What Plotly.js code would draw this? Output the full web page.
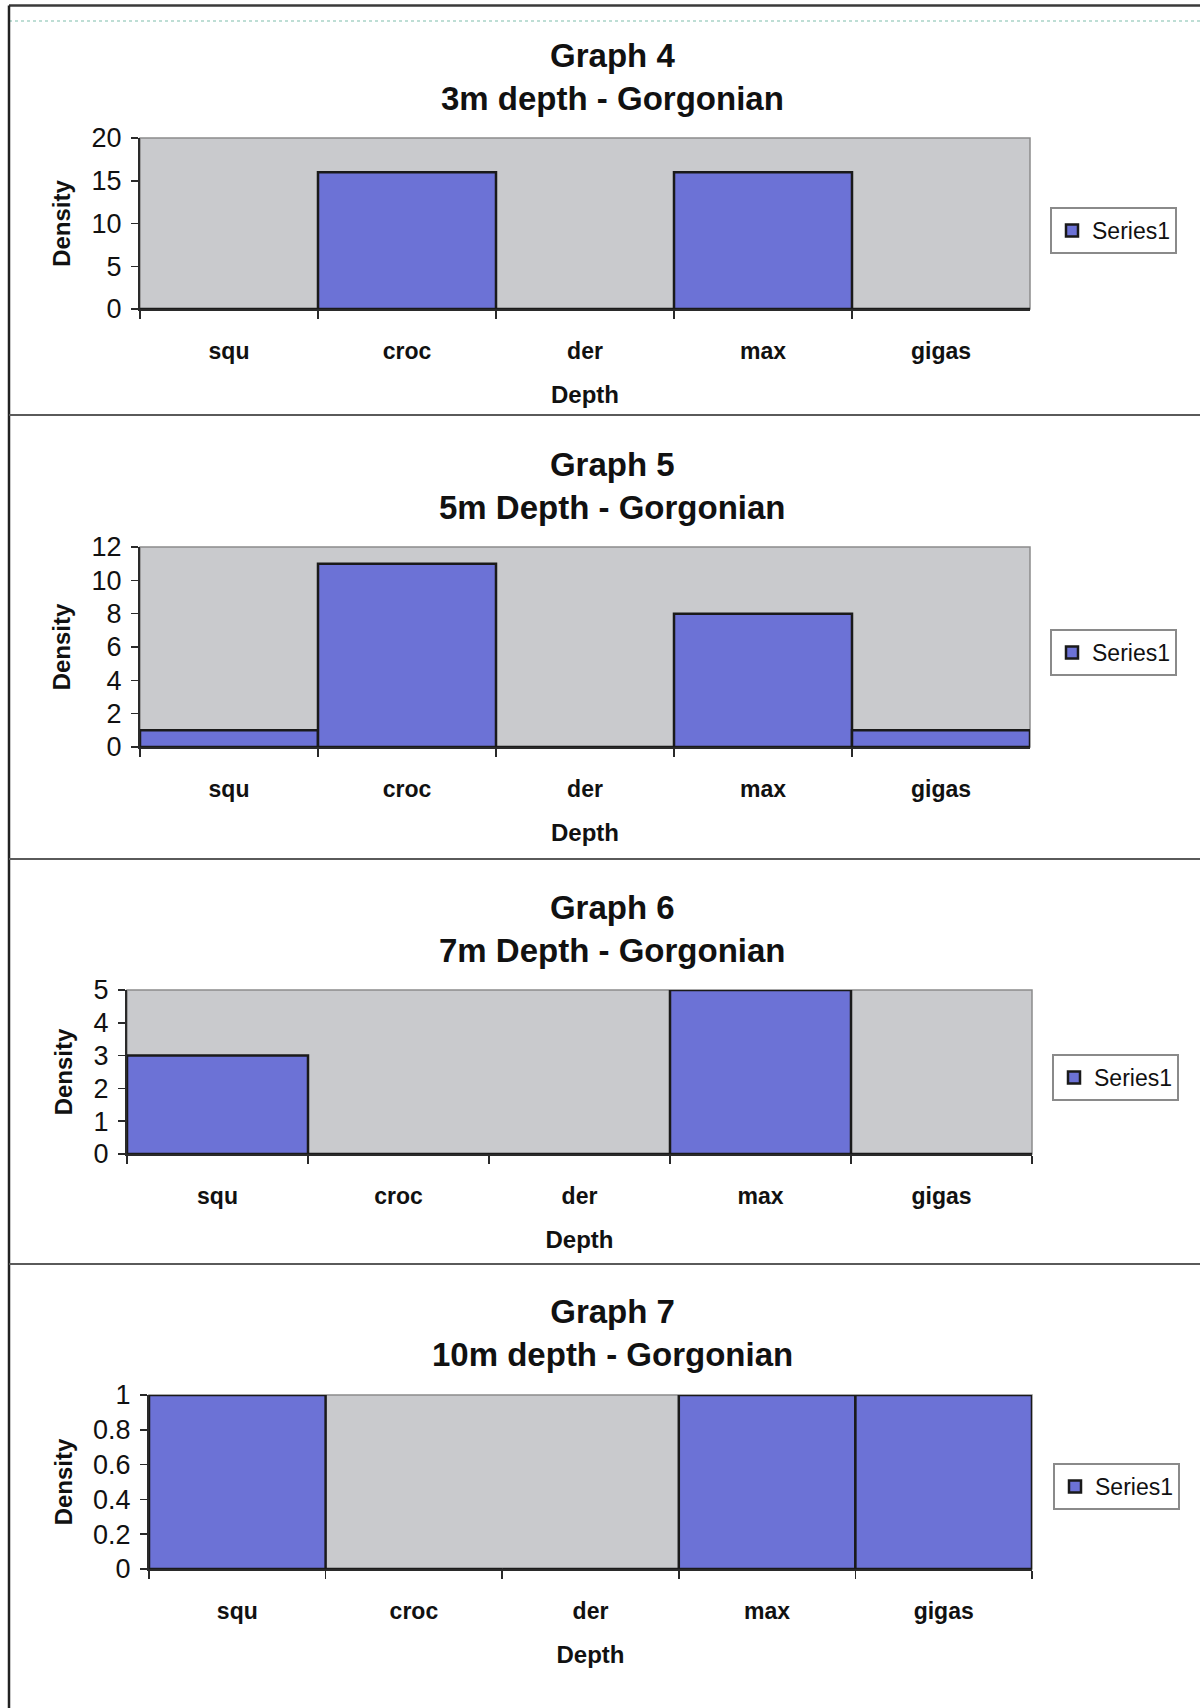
<!DOCTYPE html>
<html>
<head>
<meta charset="utf-8">
<script src="https://cdn.plot.ly/plotly-3.0.1.min.js"></script>
<style>
html,body{margin:0;padding:0;background:#fff;}
#chart{width:1200px;height:1708px;}
</style>
</head>
<body>
<div id="chart"></div>
<script>
// ---- data ----
const categories = ["squ", "croc", "der", "max", "gigas"];
const graph4Values = [0, 16, 0, 16, 0];
const graph5Values = [1, 11, 0, 8, 1];
const graph6Values = [3, 0, 0, 5, 0];
const graph7Values = [1, 0, 0, 1, 1];
const titles = [
  "Graph 4<br>3m depth - Gorgonian",
  "Graph 5<br>5m Depth - Gorgonian",
  "Graph 6<br>7m Depth - Gorgonian",
  "Graph 7<br>10m depth - Gorgonian"
];
const seriesName = "Series1";
const yRanges = [[0, 20], [0, 12], [0, 5], [0, 1]];
const yDticks = [5, 2, 1, 0.2];
const xAxisTitle = "Depth";
const yAxisTitle = "Density";

// ---- layout helpers (pixel geometry) ----
const W = 1200, H = 1708;
const px = x => x / W;
const py = y => 1 - y / H;

const panels = [
  {x0:140, x1:1030, y0:138, y1:309, titleY:77,  legX:1050, legY:207},
  {x0:140, x1:1030, y0:547, y1:747, titleY:486, legX:1050, legY:629},
  {x0:127, x1:1032, y0:990, y1:1154, titleY:929, legX:1052, legY:1054},
  {x0:149, x1:1032, y0:1395, y1:1569, titleY:1333, legX:1053, legY:1463}
];
const allValues = [graph4Values, graph5Values, graph6Values, graph7Values];

const barColor = "#6c72d6";
const font = "Liberation Sans, Arial, sans-serif";

const traces = [];
const layout = {
  width: W, height: H,
  margin: {l:0, r:0, t:0, b:0},
  paper_bgcolor: "#ffffff",
  plot_bgcolor: "#c9cacd",
  bargap: 0,
  font: {family: font, color: "#111"},
  annotations: [],
  shapes: [],
  showlegend: true
};

panels.forEach((p, i) => {
  const n = i === 0 ? "" : String(i + 1);
  const legendId = "legend" + n;
  traces.push({
    type: "bar",
    x: categories,
    y: allValues[i],
    name: seriesName,
    xaxis: "x" + n,
    yaxis: "y" + n,
    legend: legendId,
    marker: {color: barColor, line: {color: "#1a1a1a", width: 2.5}},
    hoverinfo: "x+y"
  });
  layout["xaxis" + n] = {
    domain: [px(p.x0), px(p.x1)],
    anchor: "y" + n,
    type: "category",
    showline: true, linecolor: "#2a2a2a", linewidth: 2,
    ticks: "outside", tickson: "boundaries", ticklen: 8, tickcolor: "#2a2a2a", tickwidth: 1.5,
    tickfont: {size: 23, family: font, color: "#111", weight: "bold"},
    ticklabelstandoff: 20,
    showgrid: false, zeroline: false, fixedrange: true,
    title: {text: xAxisTitle, font: {size: 24, family: font, weight: "bold", color: "#111"}, standoff: 24}
  };
  layout["yaxis" + n] = {
    domain: [py(p.y1), py(p.y0)],
    anchor: "x" + n,
    range: yRanges[i], dtick: yDticks[i], tick0: 0,
    showline: true, linecolor: "#2a2a2a", linewidth: 2,
    ticks: "outside", ticklen: 7, tickcolor: "#2a2a2a", tickwidth: 1.5,
    tickfont: {size: 27, family: font, color: "#111"},
    ticklabelstandoff: 4,
    showgrid: false, zeroline: false, fixedrange: true,
    title: {text: yAxisTitle, font: {size: 24, family: font, weight: "bold", color: "#111"}, standoff: 14}
  };
  layout[legendId] = {
    x: px(p.legX), y: py(p.legY), xanchor: "left", yanchor: "top",
    bgcolor: "#ffffff", bordercolor: "#8a8a8a", borderwidth: 2,
    font: {size: 23, family: font, color: "#111"},
    itemwidth: 30, tracegroupgap: 0
  };
  layout.annotations.push({
    text: "<b>" + titles[i].replace("<br>", "</b><br><b>") + "</b>",
    x: px(612), y: py(p.titleY), xref: "paper", yref: "paper",
    xanchor: "center", yanchor: "middle", showarrow: false,
    font: {size: 33, family: font, color: "#111"}
  });
  // gray plot frame (top/right)
  layout.shapes.push({
    type: "rect", xref: "x" + n + " domain", yref: "y" + n + " domain",
    x0: 0, x1: 1, y0: 0, y1: 1, line: {color: "#8c8c8c", width: 1.5}, layer: "below"
  });
});

// panel frame lines
layout.shapes.push(
  {type:"line", xref:"paper", yref:"paper", x0:px(9), x1:1, y0:py(5.5), y1:py(5.5), line:{color:"#3a3a3a", width:2.5}},
  {type:"line", xref:"paper", yref:"paper", x0:px(9), x1:1, y0:py(21), y1:py(21), line:{color:"#a9d3c8", width:1.5, dash:"dot"}},
  {type:"line", xref:"paper", yref:"paper", x0:px(9), x1:px(9), y0:py(5.5), y1:0, line:{color:"#222", width:2.5}},
  {type:"line", xref:"paper", yref:"paper", x0:px(9), x1:1, y0:py(415), y1:py(415), line:{color:"#5a5a5a", width:2}},
  {type:"line", xref:"paper", yref:"paper", x0:px(9), x1:1, y0:py(859), y1:py(859), line:{color:"#5a5a5a", width:2}},
  {type:"line", xref:"paper", yref:"paper", x0:px(9), x1:1, y0:py(1264), y1:py(1264), line:{color:"#5a5a5a", width:2}}
);

Plotly.newPlot("chart", traces, layout, {staticPlot: true, displayModeBar: false});
</script>
</body>
</html>
